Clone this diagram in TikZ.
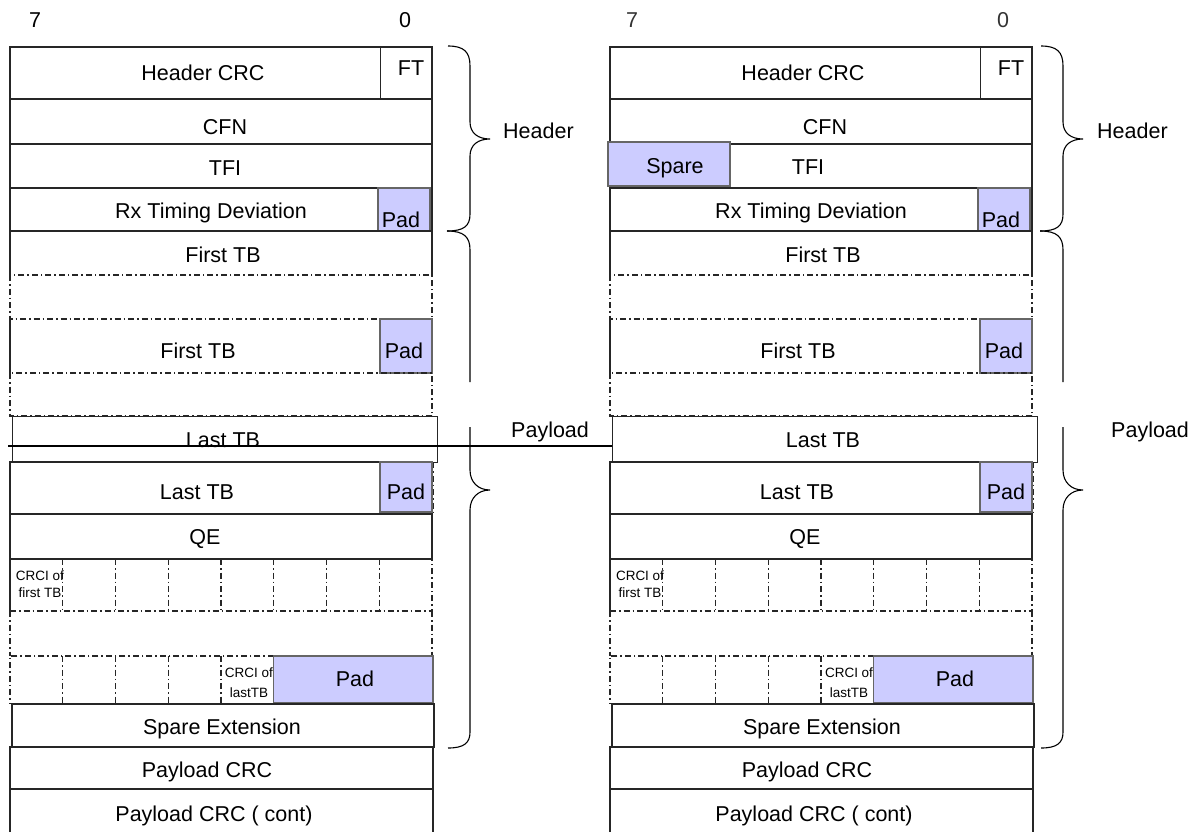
\documentclass[tikz,border=0pt]{standalone}
\usepackage{fontspec}
\setmainfont{Liberation Sans}
\definecolor{padblue}{HTML}{CCCCFF}
\tikzset{
  box/.style={draw=black!85, line width=1.2pt},
  dd/.style={draw=black!85, line width=1.2pt, dash pattern=on 6pt off 3pt on 1.5pt off 3pt},
  padbox/.style={fill=padblue, draw=black!60, line width=1.2pt},
  lbl/.style={font=\fontsize{21.5}{24}\selectfont, anchor=base, inner sep=0pt},
  tinylbl/.style={font=\fontsize{13.5}{16}\selectfont, anchor=base, inner sep=0pt},
  brc/.style={draw=black, line width=1.1pt},
  strike/.style={draw=black, line width=1.6pt},
}
\newcommand{\fieldtable}{%
  % Header CRC / FT
  \draw[box] (0,47) rectangle (422,99);
  \draw[box, line width=0.8pt] (370,47) -- (370,99);
  \node[lbl] (hcrc) at (193,81) {Header CRC};
  \node[lbl] (ft) at (401,76) {FT};
  % CFN
  \draw[box] (0,99) rectangle (422,144);
  \node[lbl] (cfn) at (215,135) {CFN};
  % TFI
  \draw[box] (0,144) rectangle (422,188);
  % Rx Timing Deviation
  \draw[box] (0,188) rectangle (422,231);
  \draw[padbox] (368,188) rectangle (420,231);
  \node[lbl] (rx) at (201,218) {Rx Timing Deviation};
  \node[lbl] (padA) at (391,227) {Pad};
  % First TB
  \draw[box] (0,275) -- (0,231) -- (422,231) -- (422,275);
  \node[lbl] (tbA) at (213,262) {First TB};
  \draw[dd] (0,275) rectangle (422,319);
  % First TB + Pad
  \draw[box] (0,319) -- (0,373);
  \draw[padbox] (370,319) rectangle (422,373);
  \node[lbl] (tbB) at (188,358) {First TB};
  \node[lbl] (padB) at (394,358) {Pad};
  \draw[dd] (0,373) rectangle (422,416);
  % Last TB (upper)
  \node[box, anchor=north west, inner sep=0pt, minimum width=425pt, minimum height=46pt] (lastbox) at (2,416) {};
  \node[lbl] (tbC) at (213,447) {Last TB};
  % Last TB + Pad
  \draw[box] (422,462) -- (0,462) -- (0,514) -- (422,514);
  \draw[dd, line width=1.6pt] (423,462) -- (423,514);
  \draw[padbox] (370,462) rectangle (422,512);
  \node[lbl] (tbD) at (187,499) {Last TB};
  \node[lbl] (padC) at (396,499) {Pad};
  % QE
  \draw[box] (0,514) rectangle (422,559);
  \node[lbl] (qe) at (195,544) {QE};
  % CRCI row (first)
  \draw[box] (0,559) -- (0,611);
  \draw[dd] (0,611) -- (422,611) -- (422,559);
  \foreach \k in {1,...,7} \draw[dd] ({52.75*\k},559) -- ({52.75*\k},611);
  \node[tinylbl] (crciA) at (30,580) {CRCI of};
  \node[tinylbl] (crciB) at (30,597) {first TB};
  % gap
  \draw[dd] (0,611) -- (0,656);
  \draw[dd] (422,611) -- (422,656);
  % CRCI row (last)
  \draw[dd] (263.75,656) -- (0,656) -- (0,703);
  \foreach \k in {1,...,4} \draw[dd] ({52.75*\k},656) -- ({52.75*\k},703);
  \draw[padbox] (263.75,656) rectangle (423,703);
  \node[tinylbl] (crciC) at (239,677) {CRCI of};
  \node[tinylbl] (crciD) at (239,697) {lastTB};
  \node[lbl] (padD) at (345,686) {Pad};
  % Spare Extension
  \draw[box] (2,704) rectangle (424,747);
  \node[lbl] (spx) at (212,734) {Spare Extension};
  % Payload CRC
  \draw[box] (0,747) rectangle (423,789);
  \node[lbl] (pcrc) at (197,777) {Payload CRC};
  % Payload CRC (cont)
  \draw[box] (0,832) -- (0,789) -- (423,789) -- (423,832);
  \node[lbl] (pcrc2) at (204,821) {Payload CRC ( cont)};
}
\newcommand{\headerbrace}{%
  \draw[brc] (448,46) .. controls (464,46) and (470,52) .. (470,66) -- (470,122)
    .. controls (470,133) and (478,139) .. (490,139)
    .. controls (478,139) and (470,145) .. (470,156) -- (470,214)
    .. controls (470,226) and (464,231) .. (447,231);
}
\newcommand{\payloadbrace}{%
  \draw[brc] (447,231) .. controls (464,231) and (470,237) .. (470,250) -- (470,382);
  \draw[brc] (470,427) -- (470,470) .. controls (470,482) and (478,490) .. (490,490)
    .. controls (478,490) and (470,498) .. (470,510) -- (470,732)
    .. controls (470,743) and (464,748) .. (448,748);
}
\begin{document}
\begin{tikzpicture}[x=1pt,y=-1pt]
  \useasboundingbox (0,0) rectangle (1190,832);
  % left table
  \begin{scope}[xshift=10pt, name prefix=L-]
    \fieldtable
    \node[lbl] (tfi) at (215,175) {TFI};
    \node[lbl] (b7) at (25,28) {7};
    \node[lbl] (b0) at (395,28) {0};
  \end{scope}
  % right table
  \begin{scope}[xshift=610pt, name prefix=R-]
    \fieldtable
    \draw[padbox] (-2,142) rectangle (120,186);
    \node[lbl] (spare) at (65,173) {Spare};
    \node[lbl] (tfi) at (198,174) {TFI};
    \node[lbl, text=black!80] (b7) at (22,28) {7};
    \node[lbl, text=black!80] (b0) at (393,28) {0};
  \end{scope}
  % braces and labels
  \headerbrace
  \payloadbrace
  \begin{scope}[xshift=593pt]
    \headerbrace
    \payloadbrace
  \end{scope}
  \node[lbl, anchor=base west] (hdrL) at (503,138) {Header};
  \node[lbl, anchor=base west] (hdrR) at (1097,138) {Header};
  \node[lbl, anchor=base west] (plL) at (511,437) {Payload};
  \node[lbl, anchor=base west] (plR) at (1111,437) {Payload};
  % strike-through line
  \coordinate (strikeL) at (8,446);
  \draw[strike] (strikeL) -- (strikeL -| R-lastbox.west);
\end{tikzpicture}
\end{document}
